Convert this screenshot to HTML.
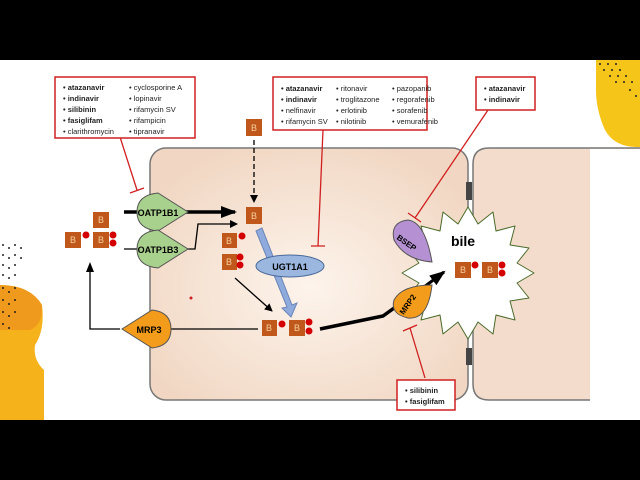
<!DOCTYPE html><html><head><style>
body{margin:0;background:#000;width:640px;height:480px;overflow:hidden}
svg{display:block}
text{font-family:"Liberation Sans",sans-serif}
</style></head><body>
<svg width="640" height="480" viewBox="0 0 640 480">
<defs>
<radialGradient id="cg" cx="0.5" cy="0.55" r="0.6"><stop offset="0" stop-color="#fdf4ec"/><stop offset="1" stop-color="#f1d7c3"/></radialGradient>
<marker id="ah" markerWidth="8" markerHeight="8" refX="7" refY="4" orient="auto" markerUnits="userSpaceOnUse"><path d="M0,0L8,4L0,8z" fill="#000"/></marker>
<marker id="ah2" markerWidth="16" markerHeight="12" refX="14" refY="6" orient="auto" markerUnits="userSpaceOnUse"><path d="M0,0L16,6L0,12z" fill="#000"/></marker>
</defs>
<rect x="0" y="60" width="640" height="360" fill="#fff"/>
<!-- left deco -->
<path d="M0,285 Q30,285 42,305 Q45,330 35,345 Q33,360 44,370 L44,420 L0,420z" fill="#f6b21a"/>
<path d="M0,285 Q30,285 42,305 Q43,325 30,330 L0,330z" fill="#ef9a1c"/>
<g fill="#222">
<circle cx="3" cy="245" r="1"/><circle cx="9" cy="248" r="1"/><circle cx="15" cy="245" r="1"/><circle cx="21" cy="248" r="1"/>
<circle cx="3" cy="255" r="1"/><circle cx="9" cy="258" r="1"/><circle cx="15" cy="255" r="1"/><circle cx="21" cy="258" r="1"/>
<circle cx="3" cy="265" r="1"/><circle cx="9" cy="268" r="1"/><circle cx="15" cy="265" r="1"/>
<circle cx="3" cy="275" r="1"/><circle cx="9" cy="278" r="1"/><circle cx="15" cy="275" r="1"/>
<circle cx="3" cy="288" r="1"/><circle cx="9" cy="292" r="1"/><circle cx="15" cy="288" r="1"/>
<circle cx="3" cy="300" r="1"/><circle cx="9" cy="304" r="1"/><circle cx="15" cy="300" r="1"/>
<circle cx="3" cy="312" r="1"/><circle cx="9" cy="316" r="1"/><circle cx="15" cy="312" r="1"/>
<circle cx="3" cy="324" r="1"/><circle cx="9" cy="328" r="1"/>
</g>
<!-- right deco -->
<path d="M596,60 L640,60 L640,147 Q615,148 605,130 Q596,110 596,90z" fill="#f6c51a"/>
<g fill="#222"><circle cx="600" cy="64" r="1"/><circle cx="608" cy="64" r="1"/><circle cx="616" cy="64" r="1"/><circle cx="604" cy="70" r="1"/><circle cx="612" cy="70" r="1"/><circle cx="620" cy="70" r="1"/><circle cx="610" cy="76" r="1"/><circle cx="618" cy="76" r="1"/><circle cx="626" cy="76" r="1"/><circle cx="616" cy="82" r="1"/><circle cx="624" cy="82" r="1"/><circle cx="632" cy="82" r="1"/><circle cx="630" cy="90" r="1"/><circle cx="636" cy="96" r="1"/></g>
<!-- cells -->
<rect x="150" y="148" width="318" height="252" rx="16" fill="url(#cg)" stroke="#777" stroke-width="1.5"/>
<path d="M640,148 L489,148 Q473,148 473,164 L473,384 Q473,400 489,400 L590,400" fill="#f3dccb" stroke="#777" stroke-width="1.5"/>
<rect x="590" y="149" width="50" height="250" fill="#fff"/>
<rect x="466" y="182" width="6" height="18" fill="#444"/><rect x="466" y="348" width="6" height="17" fill="#444"/>
<!-- bile star -->
<polygon fill="#fff" stroke="#4a6b2a" stroke-width="1" stroke-linejoin="round" points="
534,273 517,283 529,298 510,301 515,320 496,315 493,334 478,322 468,339 458,322 443,334 440,315 421,320 426,301 407,298 419,283 402,273 419,263 407,248 426,245 421,226 440,231 443,212 458,224 468,207 478,224 493,212 496,231 515,226 510,245 529,248 517,263"/>
<text x="463" y="246" font-size="14" font-weight="bold" text-anchor="middle">bile</text>
<!-- connectors -->
<line x1="124" y1="212" x2="235" y2="212" stroke="#000" stroke-width="3.5" marker-end="url(#ah2)"/>
<path d="M124,249 L195,249 L198,224 L237,224" fill="none" stroke="#000" stroke-width="1.3" marker-end="url(#ah)"/>
<line x1="254" y1="140" x2="254" y2="202" stroke="#000" stroke-width="1.3" stroke-dasharray="5,3" marker-end="url(#ah)"/>
<line x1="235" y1="278" x2="272" y2="311" stroke="#000" stroke-width="1.3" marker-end="url(#ah)"/>
<path d="M256,231 L262,228 L292,305 L297,303 L291,317 L282,308 L287,307z" fill="#8faadc" stroke="#6b86b8" stroke-width="1"/>
<path d="M258,329 L160,329 M120,329 L90,329 L90,270" fill="none" stroke="#000" stroke-width="1.3"/>
<path d="M90,262 L86,272 L94,272z" fill="#000"/>
<path d="M320,329 L383,316 L408,298" fill="none" stroke="#000" stroke-width="3.5"/>
<path d="M404,302 L444,272" stroke="#000" stroke-width="3" marker-end="url(#ah2)"/>
<!-- red inhibitors -->
<g stroke="#d02020" stroke-width="1.3" fill="none">
<path d="M120,137 L137,190 M130,193 L144,188"/>
<path d="M323,130 L318,246 M311,246 L325,246"/>
<path d="M488,110 L415,218 M408,213 L421,222"/>
<path d="M425,378 L410,328 M403,331 L417,325"/>
</g>
<!-- transporters -->
<g stroke="#555" stroke-width="1">
<path d="M137,212 Q137,195 158,193 L188,212 L158,231 Q137,229 137,212z" fill="#a9d18e"/>
<path d="M137,249 Q137,232 158,230 L188,249 L158,268 Q137,266 137,249z" fill="#a9d18e"/>
<path d="M171,329 Q171,312 152,310 L122,329 L152,348 Q171,346 171,329z" fill="#f39b1b"/>
<path d="M432,262 Q405,260 394,240 Q390,222 408,220 Q425,222 432,262z" fill="#b591d4"/>
<path d="M432,285 Q428,320 408,318 Q390,314 394,300 Q402,285 432,285z" fill="#f39b1b"/>
</g>
<text x="158" y="216" font-size="9" font-weight="bold" text-anchor="middle">OATP1B1</text>
<text x="158" y="253" font-size="9" font-weight="bold" text-anchor="middle">OATP1B3</text>
<text x="149" y="333" font-size="9" font-weight="bold" text-anchor="middle">MRP3</text>
<text x="405" y="245" font-size="8" font-weight="bold" transform="rotate(35 405 245)" text-anchor="middle">BSEP</text>
<text x="410" y="306" font-size="8" font-weight="bold" transform="rotate(-55 410 306)" text-anchor="middle">MRP2</text>
<ellipse cx="290" cy="266" rx="34" ry="11" fill="#9bb7e0" stroke="#4a6a9a" stroke-width="1"/>
<text x="290" y="270" font-size="9" font-weight="bold" text-anchor="middle">UGT1A1</text>
<!-- B boxes -->
<g font-size="9" fill="#f5d0a0" text-anchor="middle">
<g fill="#c0581c"><rect x="93" y="212" width="16" height="16"/><rect x="65" y="232" width="16" height="16"/><rect x="93" y="232" width="16" height="16"/>
<rect x="246" y="119" width="16" height="17"/><rect x="246" y="207" width="16" height="17"/><rect x="222" y="233" width="15" height="15"/><rect x="222" y="254" width="15" height="16"/>
<rect x="262" y="320" width="15" height="16"/><rect x="289" y="320" width="16" height="16"/>
<rect x="455" y="262" width="16" height="16"/><rect x="482" y="262" width="16" height="16"/></g>
<g fill="#d40000"><circle cx="86" cy="235" r="3.5"/><circle cx="113" cy="235" r="3.5"/><circle cx="113" cy="243" r="3.5"/>
<circle cx="242" cy="236" r="3.5"/><circle cx="240" cy="257" r="3.5"/><circle cx="240" cy="265" r="3.5"/>
<circle cx="282" cy="324" r="3.5"/><circle cx="309" cy="322" r="3.5"/><circle cx="309" cy="331" r="3.5"/>
<circle cx="475" cy="265" r="3.5"/><circle cx="502" cy="265" r="3.5"/><circle cx="502" cy="273" r="3.5"/></g>
<text x="101" y="223">B</text><text x="73" y="243">B</text><text x="101" y="243">B</text>
<text x="254" y="131">B</text><text x="254" y="219">B</text><text x="229" y="244">B</text><text x="229" y="265">B</text>
<text x="269" y="331">B</text><text x="297" y="331">B</text><text x="463" y="273">B</text><text x="490" y="273">B</text>
</g>
<!-- label boxes -->
<g fill="#fff" stroke="#d02020" stroke-width="1.5">
<rect x="55" y="77" width="140" height="61"/><rect x="273" y="77" width="154" height="53"/><rect x="476" y="77" width="59" height="33"/><rect x="397" y="380" width="58" height="30"/>
</g>
<g font-size="7.5" fill="#222">
<text x="63" y="90" font-weight="bold">• atazanavir</text><text x="63" y="101" font-weight="bold">• indinavir</text><text x="63" y="112" font-weight="bold">• silibinin</text><text x="63" y="123" font-weight="bold">• fasiglifam</text><text x="63" y="134">• clarithromycin</text>
<text x="129" y="90">• cyclosporine A</text><text x="129" y="101">• lopinavir</text><text x="129" y="112">• rifamycin SV</text><text x="129" y="123">• rifampicin</text><text x="129" y="134">• tipranavir</text>
<text x="281" y="91" font-weight="bold">• atazanavir</text><text x="281" y="102" font-weight="bold">• indinavir</text><text x="281" y="113">• nelfinavir</text><text x="281" y="124">• rifamycin SV</text>
<text x="336" y="91">• ritonavir</text><text x="336" y="102">• troglitazone</text><text x="336" y="113">• erlotinib</text><text x="336" y="124">• nilotinib</text>
<text x="392" y="91">• pazopanib</text><text x="392" y="102">• regorafenib</text><text x="392" y="113">• sorafenib</text><text x="392" y="124">• vemurafenib</text>
<text x="484" y="91" font-weight="bold">• atazanavir</text><text x="484" y="102" font-weight="bold">• indinavir</text>
<text x="405" y="393" font-weight="bold">• silibinin</text><text x="405" y="404" font-weight="bold">• fasiglifam</text>
</g>
<circle cx="191" cy="298" r="1.5" fill="#d02020"/>
</svg>
</body></html>
